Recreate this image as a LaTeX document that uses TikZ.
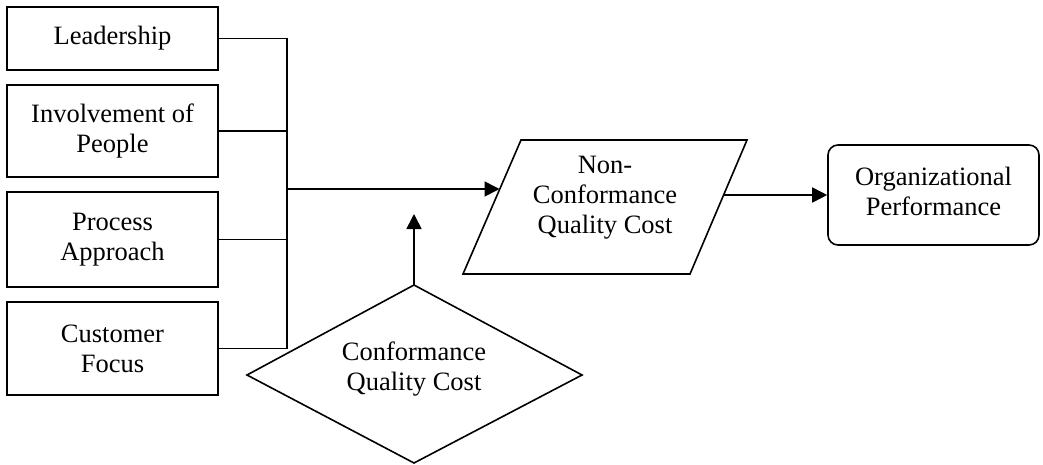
\documentclass[tikz,border=0pt]{standalone}
\usepackage{fontspec}
\setmainfont{Liberation Serif}
\usetikzlibrary{arrows.meta,shapes.geometric}
\begin{document}
\begin{tikzpicture}[x=1pt,y=-1pt,
  txt/.style={font=\fontsize{26.5}{30}\selectfont, align=center, inner sep=0pt},
  factor/.style={txt, draw, line width=1.6pt, minimum width=211pt},
  shapeline/.style={line width=1.6pt, line join=miter},
  conn/.style={line width=1.6pt},
  arr/.style={conn, -{Triangle[length=15pt,width=15pt]}}]
\useasboundingbox (0,0) rectangle (1043,465);

% factor boxes
\node[factor, minimum height=63pt] (lead) at (112.5,38.5) {Leadership};
\node[factor, minimum height=92pt] (inv) at (112.5,131) {Involvement of\\People};
\node[factor, minimum height=95pt] (proc) at (112.5,239.5) {Process\\Approach};
\node[factor, minimum height=93pt] (cust) at (112.5,348.5) {Customer\\Focus};

% bus
\coordinate (bus) at (287,0);
\draw[conn] (lead.east) -| (bus |- cust.east) -- (cust.east);
\draw[conn] (inv.east) -- (inv.east -| bus);
\draw[conn] (proc.east) -- (proc.east -| bus);
\coordinate (junc) at (287,189);

% parallelogram
\coordinate (pBL) at (463,274);
\coordinate (pTL) at (521,140);
\coordinate (pTR) at (747,140);
\coordinate (pBR) at (690,274);
\draw[shapeline] (pBL) -- (pTL) -- (pTR) -- (pBR) -- cycle;
\node[txt] (nqc) at (605,198) {Non-\\Conformance\\Quality Cost};
\coordinate (pW) at (499.5,189);
\coordinate (pE) at (723.5,195);

% organizational performance
\node[txt, draw, line width=1.6pt, rounded corners=10pt, minimum width=211pt, minimum height=100pt] (org) at (933.5,195) {};
\node[txt] (orgt) at (933.5,191) {Organizational\\Performance};

% diamond
\coordinate (dT) at (414,285);
\coordinate (dR) at (582,375);
\coordinate (dB) at (414,463);
\coordinate (dL) at (247,375);
\draw[shapeline] (dT) -- (dR) -- (dB) -- (dL) -- cycle;
\node[txt] (cqc) at (414,369) {Conformance\\Quality Cost};
\coordinate (upTip) at (414,214);

% arrows
\draw[arr] (junc) -- (pW);
\draw[arr] (pE) -- (org.west);
\draw[arr] (dT) -- (upTip);
\end{tikzpicture}
\end{document}
